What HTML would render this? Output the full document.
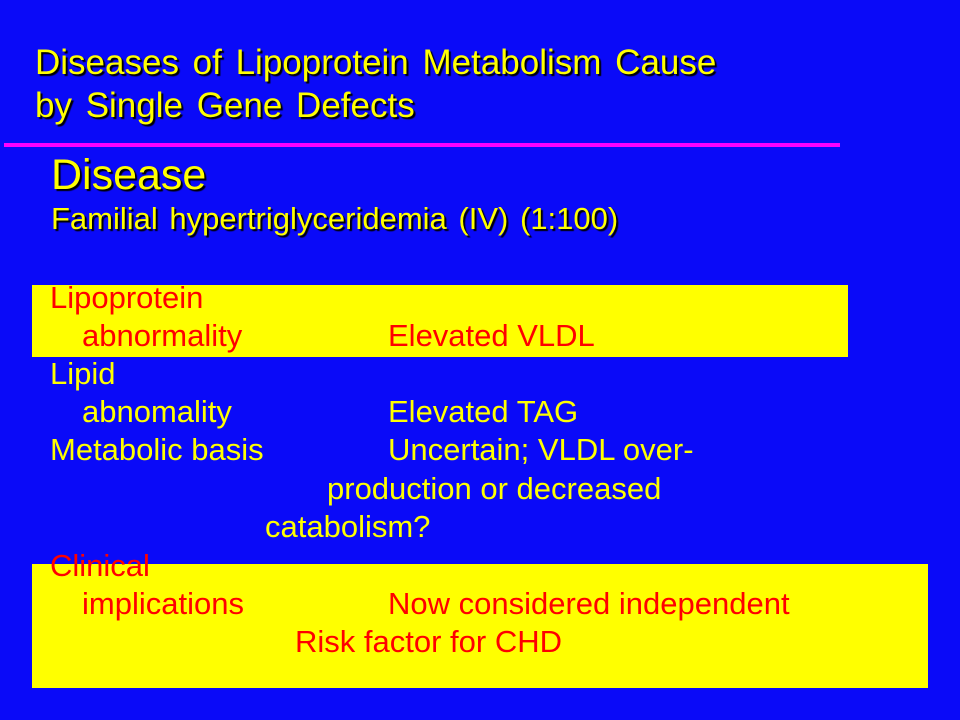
<!DOCTYPE html>
<html><head><meta charset="utf-8"><style>
body{margin:0;width:960px;height:720px;background:#0a0af8;overflow:hidden;position:relative;font-family:"Liberation Sans",Arial,sans-serif}
.t{position:absolute;white-space:nowrap;line-height:1}
.title{color:#ffff00;font-size:35px;text-shadow:2px 2px 1px #000;word-spacing:4px}
.y{color:#ffff00;font-size:31px}
.r{color:#ff0000;font-size:31px}
.box{position:absolute;background:#ffff00}
</style></head><body>
<div class="t title" style="left:35px;top:45px">Diseases of Lipoprotein Metabolism Cause</div>
<div class="t title" style="left:35px;top:88px">by Single Gene Defects</div>
<div style="position:absolute;left:4px;top:143px;width:836px;height:4px;background:#ff00ff"></div>
<div class="t" style="left:51px;top:154px;font-size:43px;color:#ffff00;text-shadow:2px 2px 1px #000">Disease</div>
<div class="t" style="left:51px;top:203px;font-size:31px;color:#ffff00;text-shadow:2px 2px 1px #000;word-spacing:3px">Familial hypertriglyceridemia (IV) (1:100)</div>
<div class="box" style="left:32px;top:285px;width:816px;height:72px"></div>
<div class="box" style="left:32px;top:564px;width:896px;height:124px"></div>
<div class="t r" style="left:50px;top:282px">Lipoprotein</div>
<div class="t r" style="left:82px;top:320px">abnormality</div>
<div class="t r" style="left:388px;top:320px">Elevated VLDL</div>
<div class="t y" style="left:50px;top:358px">Lipid</div>
<div class="t y" style="left:82px;top:396px">abnomality</div>
<div class="t y" style="left:388px;top:396px">Elevated TAG</div>
<div class="t y" style="left:50px;top:434px">Metabolic basis</div>
<div class="t y" style="left:388px;top:434px">Uncertain; VLDL over-</div>
<div class="t y" style="left:327px;top:473px">production or decreased</div>
<div class="t y" style="left:265px;top:511px">catabolism?</div>
<div class="t r" style="left:50px;top:550px">Clinical</div>
<div class="t r" style="left:82px;top:588px">implications</div>
<div class="t r" style="left:388px;top:588px">Now considered independent</div>
<div class="t r" style="left:295px;top:626px">Risk factor for CHD</div>
</body></html>
